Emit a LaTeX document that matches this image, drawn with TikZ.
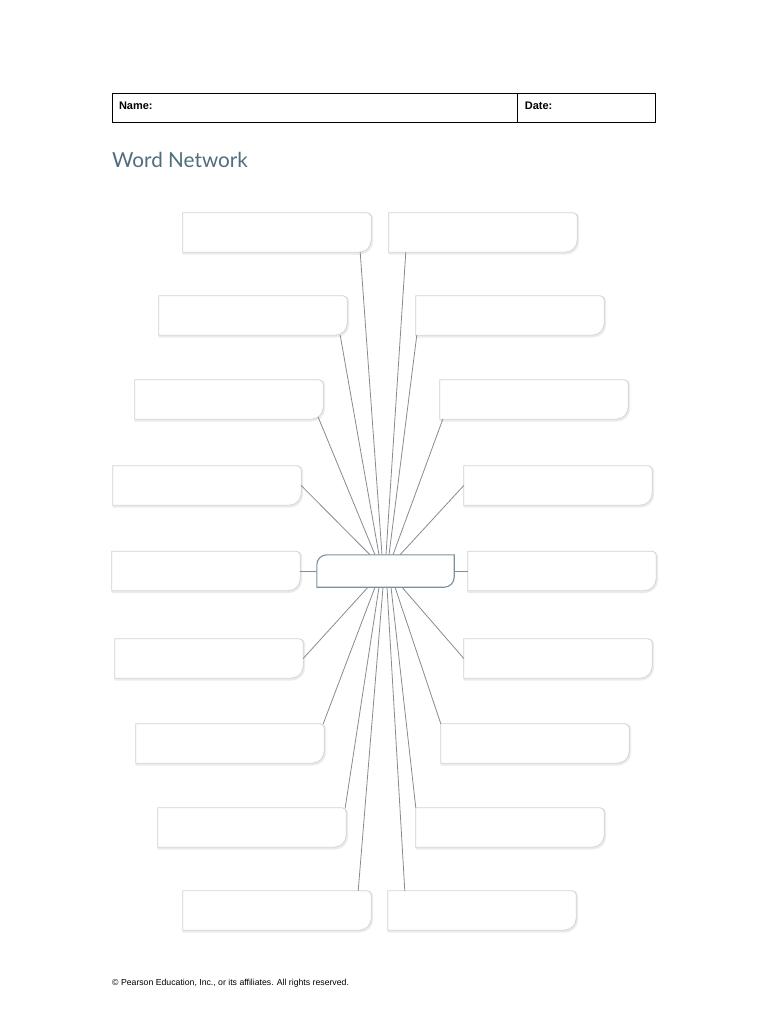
\documentclass[tikz,border=0pt]{standalone}
\usepackage{fontspec}
\setmainfont{Liberation Sans}
\newfontfamily\titlefont{Lato}
\usetikzlibrary{positioning}

\definecolor{slate}{HTML}{4F6D7C}
\definecolor{hubline}{HTML}{7A929D}
\definecolor{spokeline}{HTML}{8A8A8A}
\definecolor{boxline}{HTML}{D4D4D4}

\tikzset{
  wordnode/.style={minimum width=188pt,minimum height=39pt,inner sep=0pt},
  wordedge/.style={draw=boxline,line width=0.8pt,fill=white,
    preaction={draw=black!8,line width=2.2pt,transform canvas={shift={(0.8pt,-1.2pt)}}}},
  hdrcell/.style={draw,line width=0.9pt,minimum height=29pt,inner xsep=7pt,
    text height=8pt,text depth=3pt,align=left,font=\bfseries\fontsize{11}{13}\selectfont},
  spoke/.style={draw=spokeline,line width=0.8pt}
}

\newcommand\wordbox[3]{%
  \node[wordnode] (#1) at (#2,#3) {};
  \path[wordedge] (#1.south west) -- (#1.north west) -- ([xshift=-4pt]#1.north east)
    arc[start angle=90,end angle=0,radius=4pt] -- ([yshift=12pt]#1.south east)
    arc[start angle=0,end angle=-90,radius=12pt] -- cycle;
}

\begin{document}
\begin{tikzpicture}[x=1pt,y=-1pt]
  \useasboundingbox (0,0) rectangle (768,1024);

  \node[hdrcell,text width=391pt] (name) at (314.5,107.5) {Name:};
  \node[hdrcell,text width=124pt,right=0pt of name] (date) {Date:};
  \node[anchor=base west,text=slate,inner sep=0pt,font=\titlefont\fontsize{20.7}{25}\selectfont]
    (title) at (112,168) {Word Network};

  \foreach \n/\x/\y in {1/183/213,2/159/296,3/135/380,4/113/466,5/112/551.5,
                        6/115/639,7/136/724,8/158/808,9/183/891}
    \wordbox{l\n}{\x+94}{\y+19.5};
  \foreach \n/\x/\y in {1/389/213,2/416/296,3/440/380,4/464/466,5/468/551.5,
                        6/464/639,7/441/724,8/416/808,9/388/891}
    \wordbox{r\n}{\x+94}{\y+19.5};

  \node[minimum width=137pt,minimum height=32pt,inner sep=0pt] (c) at (385.5,571) {};

  \path[spoke] ([xshift=-11pt]l1.south east) edge ([xshift=-3.5pt]c.north)
               ([xshift=17pt]r1.south west)  edge ([xshift=0.5pt]c.north)
               ([xshift=-7pt]l2.south east)  edge ([xshift=-6.5pt]c.north)
               ([xshift=1pt]r2.south west)   edge ([xshift=3.5pt]c.north)
               ([xshift=-5pt,yshift=2pt]l3.south east) edge ([xshift=-10.5pt]c.north)
               ([xshift=3pt]r3.south west)   edge ([xshift=7.5pt]c.north)
               (l4.east) edge ([xshift=-15.5pt]c.north)
               (r4.west) edge ([xshift=14.5pt]c.north)
               (l5.east) edge (c.west)
               (c.east)  edge (r5.west)
               (l6.east) edge ([xshift=-17.5pt]c.south)
               (r6.west) edge ([xshift=16.5pt]c.south)
               ([xshift=-1pt]l7.north east)  edge ([xshift=-10.5pt]c.south)
               (r7.north west) edge ([xshift=9.5pt]c.south)
               ([xshift=-1pt]l8.north east)  edge ([xshift=-6.5pt]c.south)
               (r8.north west) edge ([xshift=5.5pt]c.south)
               ([xshift=-13pt]l9.north east) edge ([xshift=-2.5pt]c.south)
               ([xshift=17pt]r9.north west)  edge ([xshift=1.5pt]c.south);

  \path[draw=hubline,line width=1.1pt,fill=white] (c.south west) -- ([yshift=-10pt]c.north west)
    arc[start angle=180,end angle=90,radius=10pt] -- (c.north east) -- ([yshift=10pt]c.south east)
    arc[start angle=0,end angle=-90,radius=10pt] -- cycle;

  \node[anchor=base west,inner sep=0pt,font=\fontsize{8.7}{10}\selectfont]
    (copy) at (112,985) {© Pearson Education, Inc., or its affiliates. All rights reserved.};
\end{tikzpicture}
\end{document}
